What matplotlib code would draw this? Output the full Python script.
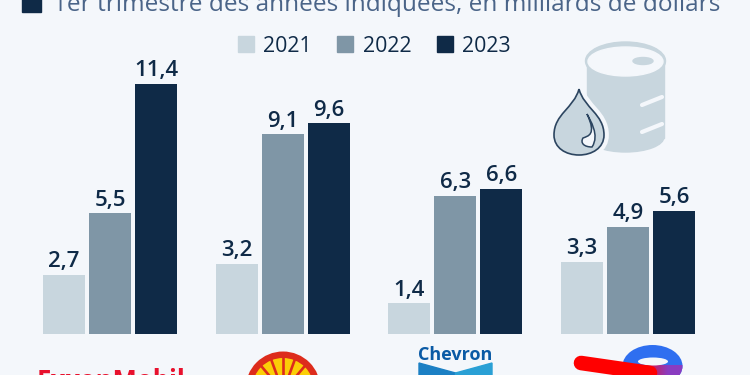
import matplotlib
matplotlib.use("Agg")
import matplotlib.pyplot as plt
import numpy as np
from matplotlib.patches import Ellipse, Polygon, Rectangle, PathPatch, Circle
from matplotlib.path import Path
from matplotlib.colors import to_rgb

years = ["2021", "2022", "2023"]
companies = ["ExxonMobil", "Shell", "Chevron", "TotalEnergies"]
v2021 = [2.7, 3.2, 1.4, 3.3]
v2022 = [5.5, 9.1, 6.3, 4.9]
v2023 = [11.4, 9.6, 6.6, 5.6]
labels_2021 = ["2,7", "3,2", "1,4", "3,3"]
labels_2022 = ["5,5", "9,1", "6,3", "4,9"]
labels_2023 = ["11,4", "9,6", "6,6", "5,6"]
subtitle = "1er trimestre des années indiquées, en milliards de dollars"

BG = "#f4f7fb"
C1, C2, C3 = "#c8d6de", "#7f96a6", "#0f2a47"
plt.rcParams["font.family"] = ["Open Sans", "DejaVu Sans"]

fig = plt.figure(figsize=(7.5, 3.75), dpi=100, facecolor=BG)

# bars: axes goes from the baseline (y=334px) to the top of the picture
ax = fig.add_axes([0, (375 - 334) / 375, 1, 334 / 375])
ax.set_xlim(-110 / 172.7, 640 / 172.7)
ax.set_ylim(0, 334 / 21.93)
ax.axis("off")
x = np.arange(len(companies))
w = 42 / 172.7
step = 46 / 172.7
for off, vals, labs, col in [(-step, v2021, labels_2021, C1),
                             (0, v2022, labels_2022, C2),
                             (step, v2023, labels_2023, C3)]:
    bars = ax.bar(x + off, vals, w, color=col)
    ax.bar_label(bars, labels=labs, padding=2, fontsize=16, color=C3, fontweight=600)

# everything else in pixel coordinates
ov = fig.add_axes([0, 0, 1, 1], zorder=3)
ov.set_xlim(0, 750)
ov.set_ylim(375, 0)
ov.axis("off")

ov.add_patch(Rectangle((22, -1), 19, 13, color=C3))
ov.text(53, 11, subtitle, fontsize=17.55, color="#4a6488", va="baseline")

for lx, tx, col, yr in [(238, 263, C1, years[0]), (337, 363, C2, years[1]), (437, 462, C3, years[2])]:
    ov.add_patch(Rectangle((lx, 36), 16, 16, color=col))
    ov.text(tx, 52, yr, fontsize=15.3, color=C3, va="baseline")

# barrel
ov.add_patch(Rectangle((587, 60), 77, 78, color=C1))
ov.add_patch(Ellipse((625.5, 137), 77, 30, color=C1))
ov.add_patch(Ellipse((625.5, 61), 80, 38, color=C1))
ov.add_patch(Ellipse((625.5, 61.5), 75, 29, color=BG))
ov.add_patch(Ellipse((643, 61), 20, 7, color=C1))
for yy in [102, 129]:
    ov.plot([642, 662], [yy + 3, yy - 5], color=BG, lw=3, solid_capstyle="round")

# drop
drop = Path([(579, 89), (574, 108), (554, 114), (554, 135), (554, 148), (566, 155), (579, 155),
             (592, 155), (604, 148), (604, 135), (604, 114), (584, 108), (579, 89)],
            [1, 4, 4, 4, 4, 4, 4, 4, 4, 4, 4, 4, 4])
ov.add_patch(PathPatch(drop, fc=BG, ec=BG, lw=7, zorder=3))
ov.add_patch(PathPatch(drop, fc=C1, ec="#2c4560", lw=1.2, zorder=4))
curl = Path([(587, 114), (597, 135), (588, 136), (583, 138), (580, 143), (584, 147), (592, 147),
             (600, 135), (590, 120), (587, 114)],
            [1, 4, 4, 4, 4, 4, 4, 4, 4, 4])
ov.add_patch(PathPatch(curl, fc=BG, ec="#2c4560", lw=1.1, zorder=5))

# logos
ov.text(37, 389, companies[0], fontsize=18.5, color="#e8112d", fontweight="bold", va="baseline")

ov.add_patch(Circle((283, 389), 37.5, fc="#dd2c1c", ec="none"))
ov.add_patch(Circle((283, 389), 31, fc="#fbce07", ec="none"))
for ang in [-60, -40, -20, 0, 20, 40, 60]:
    a = np.radians(ang)
    ov.plot([283, 283 + 34 * np.sin(a)], [392, 392 - 34 * np.cos(a)], color="#dd2c1c", lw=1.9)

ov.text(455.5, 360, companies[2], fontsize=13, color="#0a5aa5", fontweight="bold",
        va="baseline", ha="center")
ov.add_patch(Polygon([(419, 363), (455.5, 373), (455.5, 385), (419, 385)], color="#1c80c4"))
ov.add_patch(Polygon([(492, 363), (455.5, 373), (455.5, 385), (492, 385)], color="#2aa0d5"))

ring = Ellipse((652.5, 366), 60, 42, fc="#2f6ff0", ec="none")
ov.add_patch(ring)
# lower part of the ring fades red -> purple -> blue
red, pur = np.array(to_rgb("#ff0000")), np.array(to_rgb("#8a3cc0"))
for px in range(636, 684):
    t = (px - 636) / 47
    col = red + (pur - red) * min(t * 1.5, 1)
    strip = ov.add_patch(Rectangle((px, 365), 1.2, 12, color=col, lw=0))
    strip.set_clip_path(ring)
ov.add_patch(Ellipse((653, 361.5), 30, 8, fc=BG, ec="none"))
ov.plot([581, 650], [363, 373], color="#ff0000", lw=10.5, solid_capstyle="round")

fig.savefig("out.png", dpi=100, facecolor=BG)
